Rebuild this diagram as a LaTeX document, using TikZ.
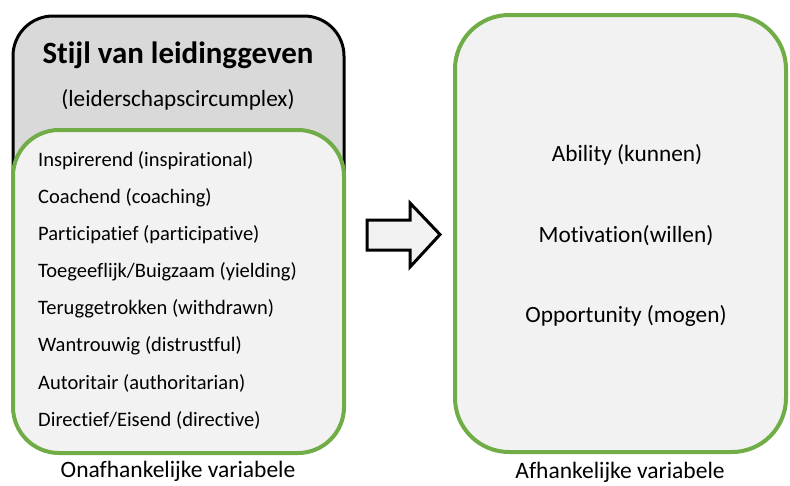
\documentclass[tikz,border=0pt]{standalone}
\usepackage{fontspec}
\setmainfont{Carlito}[Ligatures=NoCommon]
\definecolor{grn}{HTML}{70AD47}
\definecolor{lgray}{HTML}{F2F2F2}
\definecolor{mgray}{HTML}{D9D9D9}
\begin{document}
\begin{tikzpicture}[x=1pt,y=-1pt,
  item/.style={anchor=west,inner sep=0pt,font=\fontsize{20.5}{24}\selectfont},
  rtext/.style={inner sep=0pt,font=\fontsize{23.3}{27}\selectfont},
  lbl/.style={inner sep=0pt,font=\fontsize{23.5}{27}\selectfont}]
\useasboundingbox (0,0) rectangle (790,485);
% outer black box
\draw[line width=3pt,fill=mgray,rounded corners=40pt] (13,16) rectangle (344,300);
% inner green box
\draw[line width=4pt,draw=grn,fill=lgray,rounded corners=46pt] (13,130) rectangle (344,453);
% right green box
\draw[line width=4pt,draw=grn,fill=lgray,rounded corners=54pt] (455,15) rectangle (786,452);
% block arrow
\draw[line width=3pt,fill=lgray,line join=miter] (367,220) -- (410,220) -- (410,203) -- (440,234.5) -- (410,267) -- (410,250) -- (367,250) -- cycle;
% texts
\node[inner sep=0pt,font=\fontsize{30.9}{34}\selectfont\bfseries] (title) at (178,55) {Stijl van leidinggeven};
\node[inner sep=0pt,font=\fontsize{23.2}{27}\selectfont] (sub) at (178,100) {(leiderschapscircumplex)};
\node[item] (i1) at (38,161) {Inspirerend (inspirational)};
\node[item] (i2) at (38,198) {Coachend (coaching)};
\node[item] (i3) at (38,235) {Participatief (participative)};
\node[item] (i4) at (38,272) {Toegeeflijk/Buigzaam (yielding)};
\node[item] (i5) at (38,309) {Teruggetrokken (withdrawn)};
\node[item] (i6) at (38,346) {Wantrouwig (distrustful)};
\node[item] (i7) at (38,383) {Autoritair (authoritarian)};
\node[item] (i8) at (38,420) {Directief/Eisend (directive)};
\node[rtext] (r1) at (627,155) {Ability (kunnen)};
\node[rtext] (r2) at (626,236) {Motivation(willen)};
\node[rtext] (r3) at (626,316) {Opportunity (mogen)};
\node[lbl] (l1) at (178,471) {Onafhankelijke variabele};
\node[lbl] (l2) at (620,472) {Afhankelijke variabele};
\end{tikzpicture}
\end{document}
